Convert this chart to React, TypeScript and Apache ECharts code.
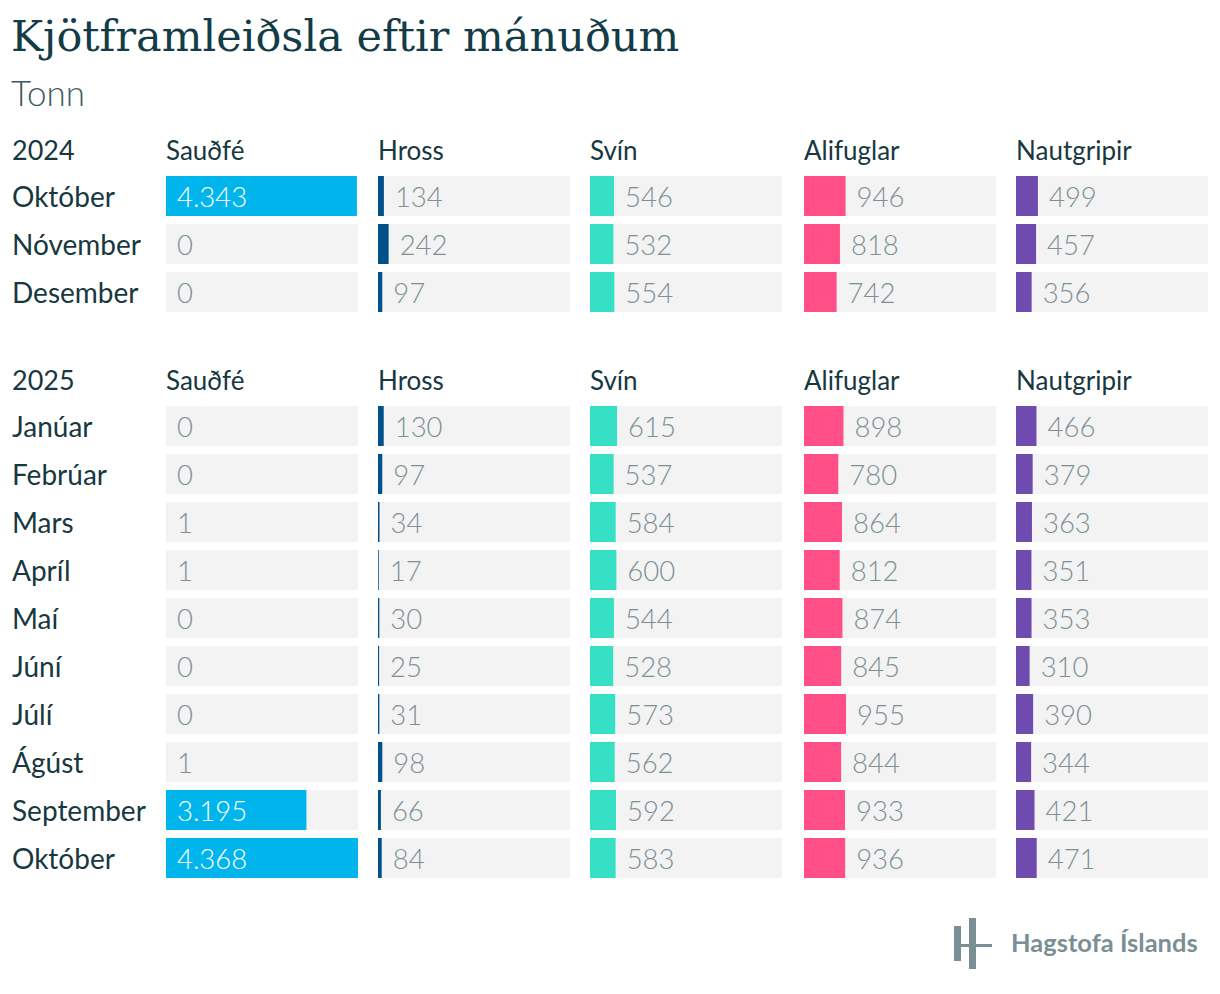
import React, { useEffect, useRef } from "react";
import * as echarts from "echarts";

const seriesNames = ["Sauðfé", "Hross", "Svín", "Alifuglar", "Nautgripir"];
const colors = ["#00b5ec", "#00508a", "#36e0c4", "#ff4f86", "#6f4aaf"];

const months2024 = ["Október", "Nóvember", "Desember"];
const months2025 = ["Janúar", "Febrúar", "Mars", "Apríl", "Maí", "Júní", "Júlí", "Ágúst", "September", "Október"];

const saudfe2024 = [4343, 0, 0];
const hross2024 = [134, 242, 97];
const svin2024 = [546, 532, 554];
const alifuglar2024 = [946, 818, 742];
const nautgripir2024 = [499, 457, 356];

const saudfe2025 = [0, 0, 1, 1, 0, 0, 0, 1, 3195, 4368];
const hross2025 = [130, 97, 34, 17, 30, 25, 31, 98, 66, 84];
const svin2025 = [615, 537, 584, 600, 544, 528, 573, 562, 592, 583];
const alifuglar2025 = [898, 780, 864, 812, 874, 845, 955, 844, 933, 936];
const nautgripir2025 = [466, 379, 363, 351, 353, 310, 390, 344, 421, 471];

const years = ["2024", "2025"];
const AXIS_MAX = 4368;

const DARK = "#17383f";
const VALUE_GRAY = "#7d9195";
const FONT = "Lato, 'Noto Sans', sans-serif";

function fmt(v: number): string {
  return String(v).replace(/\B(?=(\d{3})+(?!\d))/g, ".");
}

export default function App() {
  const ref = useRef<HTMLDivElement>(null);
  useEffect(() => {
    document.body.style.margin = "0";
    if (!ref.current) return;
    const chart = echarts.init(ref.current, null, { renderer: "svg" });

    const blocks = [
      { months: months2024, data: [saudfe2024, hross2024, svin2024, alifuglar2024, nautgripir2024], top: 171, headerY: 152 },
      { months: months2025, data: [saudfe2025, hross2025, svin2025, alifuglar2025, nautgripir2025], top: 401, headerY: 382 },
    ];
    const colLeft = [166, 378, 590, 804, 1016];
    const colWidth = 192;
    const rowH = 48;

    const grid: any[] = [];
    const xAxis: any[] = [];
    const yAxis: any[] = [];
    const series: any[] = [];
    const titles: any[] = [];

    blocks.forEach((b, bi) => {
      titles.push({
        text: years[bi],
        left: 12,
        top: b.headerY - 16,
        padding: 0,
        textStyle: { fontFamily: FONT, fontSize: 27, fontWeight: 400, color: DARK },
      });
      seriesNames.forEach((name, ci) => {
        const gi = grid.length;
        grid.push({ left: colLeft[ci], top: b.top + 1, width: colWidth, height: b.months.length * rowH });
        titles.push({
          text: name,
          left: colLeft[ci],
          top: b.headerY - 15,
          padding: 0,
          textStyle: { fontFamily: FONT, fontSize: 26, fontWeight: 400, color: DARK },
        });
        xAxis.push({
          type: "value",
          gridIndex: gi,
          min: 0,
          max: AXIS_MAX,
          show: false,
        });
        yAxis.push({
          type: "category",
          gridIndex: gi,
          data: b.months,
          inverse: true,
          axisLine: { show: false },
          axisTick: { show: false },
          splitLine: { show: false },
          axisLabel: {
            show: ci === 0,
            align: "left",
            margin: colLeft[0] - 12,
            fontFamily: FONT,
            fontSize: 28,
            color: DARK,
          },
        });
        series.push({
          type: "bar",
          name,
          xAxisIndex: gi,
          yAxisIndex: gi,
          barWidth: 40,
          showBackground: true,
          backgroundStyle: { color: "#f3f3f3" },
          itemStyle: { color: colors[ci] },
          data: b.data[ci].map((v) => {
            const inside = v / AXIS_MAX > 0.3;
            return {
              value: v,
              label: inside
                ? { position: "insideLeft", distance: 11, color: "#ffffff" }
                : { position: "right", distance: 11, color: VALUE_GRAY },
            };
          }),
          label: {
            show: true,
            fontFamily: FONT,
            fontSize: 27.5,
            fontWeight: 300,
            formatter: (p: any) => fmt(p.value),
          },
        });
      });
    });

    titles.unshift(
      {
        text: "Kjötframleiðsla eftir mánuðum",
        left: 11,
        top: 14,
        padding: 0,
        textStyle: { fontFamily: "'DejaVu Serif', serif", fontSize: 43, fontWeight: 400, color: "#143c46" },
      },
      {
        text: "Tonn",
        left: 11,
        top: 74,
        padding: 0,
        textStyle: { fontFamily: FONT, fontSize: 35, fontWeight: 300, color: "#3e5960" },
      }
    );

    const logoColor = "#7a8f94";
    chart.setOption({
      animation: false,
      backgroundColor: "#ffffff",
      title: titles,
      grid,
      xAxis,
      yAxis,
      series,
      graphic: [
        { type: "rect", shape: { x: 954, y: 926, width: 7, height: 35 }, style: { fill: logoColor } },
        { type: "rect", shape: { x: 969, y: 918, width: 7, height: 51 }, style: { fill: logoColor } },
        { type: "rect", shape: { x: 954, y: 944, width: 38, height: 3 }, style: { fill: logoColor } },
        {
          type: "text",
          left: 1011,
          top: 929,
          style: {
            text: "Hagstofa Íslands",
            fill: logoColor,
            font: `bold 25.5px ${FONT}`,
          },
        },
      ],
    });
    return () => chart.dispose();
  }, []);
  return <div ref={ref} style={{ width: 1220, height: 994 }} />;
}
